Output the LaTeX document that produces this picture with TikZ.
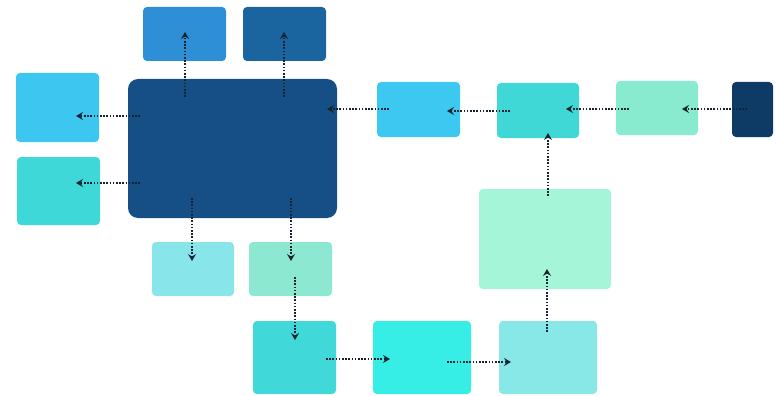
\documentclass[tikz,border=0pt]{standalone}
\usetikzlibrary{fit,arrows.meta}
\definecolor{cA}{HTML}{2E8ED6}
\definecolor{cB}{HTML}{1A64A0}
\definecolor{cMain}{HTML}{164F86}
\definecolor{cL1}{HTML}{3CC6F0}
\definecolor{cL2}{HTML}{3ED8D8}
\definecolor{cC}{HTML}{3CC8F0}
\definecolor{cD}{HTML}{40D8D6}
\definecolor{cE}{HTML}{88EACF}
\definecolor{cF}{HTML}{0D3B66}
\definecolor{cG}{HTML}{88E6EA}
\definecolor{cH}{HTML}{8CE8D0}
\definecolor{cI}{HTML}{40D8D8}
\definecolor{cJ}{HTML}{36EEE6}
\definecolor{cK}{HTML}{88E8E8}
\definecolor{cLg}{HTML}{A5F5D8}
\definecolor{cArr}{HTML}{16222E}
\tikzset{
  box/.style={rectangle, rounded corners=4pt, inner sep=0pt, draw=none},
  bigbox/.style={box, rounded corners=10pt},
  arr/.style={cArr, line width=1.7pt, dash pattern=on 1.6pt off 1.6pt,
    -{Stealth[length=7pt,width=8pt,inset=2.5pt]}}
}
\begin{document}
\begin{tikzpicture}[x=1pt,y=-1pt]
\useasboundingbox (0,0) rectangle (777,396);
% boxes
\node[box, fill=cA, fit={(143,7) (226,61)}] (tA) {};
\node[box, fill=cB, fit={(243,7) (326,61)}] (tB) {};
\node[bigbox, fill=cMain, fit={(128,79) (337,218)}] (main) {};
\node[box, fill=cL1, fit={(16,73) (99,142)}] (l1) {};
\node[box, fill=cL2, fit={(17,157) (100,225)}] (l2) {};
\node[box, fill=cC, fit={(377,82) (460,137)}] (bC) {};
\node[box, fill=cD, fit={(497,83) (579,138)}] (bD) {};
\node[box, fill=cE, fit={(616,81) (698,135)}] (bE) {};
\node[box, fill=cF, fit={(732,82) (773,137)}] (bF) {};
\node[box, fill=cG, fit={(152,242) (234,296)}] (bG) {};
\node[box, fill=cH, fit={(249,242) (332,296)}] (bH) {};
\node[box, fill=cI, fit={(253,321) (336,394)}] (bI) {};
\node[box, fill=cJ, fit={(373,321) (471,394)}] (bJ) {};
\node[box, fill=cK, fit={(499,321) (597,394)}] (bK) {};
\node[box, fill=cLg, fit={(479,189) (611,289)}] (bL) {};
% arrow endpoints
\coordinate (mA) at (185,97);   \coordinate (tAe) at (185,32);
\coordinate (mB) at (284,97);   \coordinate (tBe) at (284,32);
\coordinate (mL1) at (140,116); \coordinate (l1e) at (76,116);
\coordinate (mL2) at (140,183); \coordinate (l2e) at (76,183);
\coordinate (mG) at (192,198);  \coordinate (bGe) at (192,261);
\coordinate (mH) at (291,198);  \coordinate (bHe) at (291,261);
\coordinate (Cs) at (389,109);  \coordinate (mE) at (327,109);
\coordinate (Ds) at (510,111);  \coordinate (Ce) at (447,111);
\coordinate (Es) at (629,109);  \coordinate (De) at (566,109);
\coordinate (Fs) at (747,109);  \coordinate (Ee) at (682,109);
\coordinate (Hs) at (295,277);  \coordinate (Ie) at (295,340);
\coordinate (Is) at (326,359);  \coordinate (Je) at (390,359);
\coordinate (Js) at (447,362);  \coordinate (Ke) at (511,362);
\coordinate (Ks) at (547,332);  \coordinate (Le) at (547,269);
\coordinate (Ls) at (548,196);  \coordinate (Dbe) at (548,133);
% connectors
\draw[arr] (mA) -- (tAe);
\draw[arr] (mB) -- (tBe);
\draw[arr] (mL1) -- (l1e);
\draw[arr] (mL2) -- (l2e);
\draw[arr] (mG) -- (bGe);
\draw[arr] (mH) -- (bHe);
\draw[arr] (Cs) -- (mE);
\draw[arr] (Ds) -- (Ce);
\draw[arr] (Es) -- (De);
\draw[arr] (Fs) -- (Ee);
\draw[arr] (Hs) -- (Ie);
\draw[arr] (Is) -- (Je);
\draw[arr] (Js) -- (Ke);
\draw[arr] (Ks) -- (Le);
\draw[arr] (Ls) -- (Dbe);
\end{tikzpicture}
\end{document}
